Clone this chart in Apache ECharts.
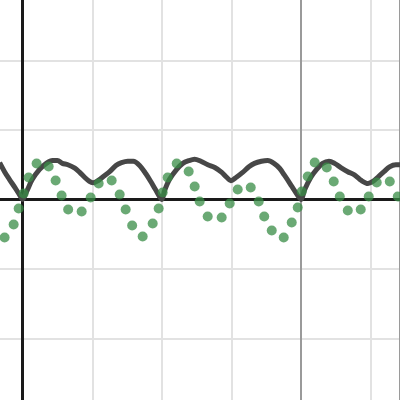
<!DOCTYPE html>
<html>
<head>
<meta charset="utf-8">
<script src="https://cdn.jsdelivr.net/npm/echarts@6/dist/echarts.min.js"></script>
<style>
html,body{margin:0;padding:0;background:#fff;width:400px;height:400px;overflow:hidden;position:relative}
#c{position:absolute;left:-47px;top:-9px;width:447px;height:417px}
</style>
</head>
<body>
<div id="c"></div>
<script>
// axis ranges / grid steps (axis units); the chart box is larger than the window so that min sits on a grid line
const xRange = [-1, 5.42];
const yRange = [-3, 3];
const gridStep = 1;
const markerX = 4;

// dark curve
const curveX = [-0.33,-0.26,-0.19,-0.11,-0.04,0,0.06,0.14,0.24,0.34,0.43,0.50,0.57,0.65,0.75,0.82,0.89,0.96,1.01,1.08,1.16,1.25,1.34,1.42,1.51,1.59,1.68,1.77,1.84,1.91,2.0,2.04,2.11,2.21,2.30,2.39,2.47,2.56,2.66,2.76,2.86,2.93,2.99,3.07,3.16,3.25,3.33,3.43,3.52,3.61,3.69,3.76,3.84,3.91,4.0,4.05,4.14,4.22,4.31,4.40,4.48,4.57,4.67,4.77,4.87,4.96,5.03,5.10,5.19,5.27,5.36,5.42];
const curveY = [0.53,0.40,0.29,0.17,0.06,0,0.12,0.29,0.43,0.52,0.56,0.56,0.52,0.50,0.45,0.39,0.32,0.26,0.24,0.27,0.33,0.40,0.49,0.53,0.55,0.55,0.49,0.37,0.26,0.14,0,0.13,0.29,0.43,0.52,0.56,0.58,0.55,0.50,0.46,0.39,0.32,0.27,0.32,0.39,0.47,0.52,0.55,0.56,0.52,0.45,0.35,0.23,0.12,0,0.14,0.32,0.43,0.52,0.55,0.52,0.46,0.40,0.35,0.27,0.23,0.26,0.32,0.40,0.47,0.50,0.50];

// green points
const dotX = [-0.259,-0.129,-0.057,0.014,0.086,0.201,0.374,0.474,0.560,0.654,0.848,0.977,1.092,1.279,1.394,1.480,1.573,1.724,1.868,1.954,2.011,2.083,2.213,2.385,2.471,2.543,2.658,2.859,2.974,3.089,3.276,3.391,3.470,3.578,3.750,3.865,3.951,4.009,4.095,4.195,4.368,4.468,4.555,4.670,4.856,4.971,5.086,5.273,5.388];
const dotY = [-0.547,-0.360,-0.129,0.086,0.317,0.518,0.475,0.273,0.058,-0.144,-0.173,0.029,0.230,0.273,0.072,-0.144,-0.374,-0.532,-0.345,-0.129,0.101,0.317,0.518,0.403,0.187,-0.029,-0.245,-0.259,-0.058,0.144,0.173,-0.029,-0.245,-0.446,-0.547,-0.331,-0.115,0.115,0.331,0.532,0.460,0.259,0.043,-0.158,-0.144,0.043,0.245,0.259,0.043];

const curve = curveX.map((x, i) => [x, curveY[i]]);
const dots = dotX.map((x, i) => [x, dotY[i]]);

const chart = echarts.init(document.getElementById('c'), null, { renderer: 'canvas' });
chart.setOption({
  animation: false,
  grid: { left: 0, right: 0, top: 0, bottom: 0, containLabel: false },
  xAxis: [
    {
      type: 'value', min: xRange[0], max: xRange[1], interval: gridStep,
      axisLine: { show: true, onZero: true, lineStyle: { color: '#1a1a1a', width: 3 } },
      axisTick: { show: false }, axisLabel: { show: false },
      splitLine: { show: true, lineStyle: { color: '#e2e2e2', width: 2 } }
    },
    {
      type: 'value', min: xRange[0], max: xRange[1], interval: markerX - xRange[0],
      axisLine: { show: false }, axisTick: { show: false }, axisLabel: { show: false },
      splitLine: { show: true, lineStyle: { color: '#9a9a9a', width: 2 } }
    }
  ],
  yAxis: {
    type: 'value', min: yRange[0], max: yRange[1], interval: gridStep,
    axisLine: { show: true, onZero: true, onZeroAxisIndex: 0, lineStyle: { color: '#1a1a1a', width: 3 } },
    axisTick: { show: false }, axisLabel: { show: false },
    splitLine: { show: true, lineStyle: { color: '#e2e2e2', width: 2 } }
  },
  series: [
    {
      type: 'line', data: curve, z: 3, smooth: 0.3, showSymbol: false, xAxisIndex: 0,
      lineStyle: { color: '#474747', width: 5 }
    },
    {
      type: 'scatter', data: dots, z: 4, symbolSize: 10, xAxisIndex: 0,
      itemStyle: { color: '#388c46', opacity: 0.75 }
    }
  ]
});
</script>
</body>
</html>
